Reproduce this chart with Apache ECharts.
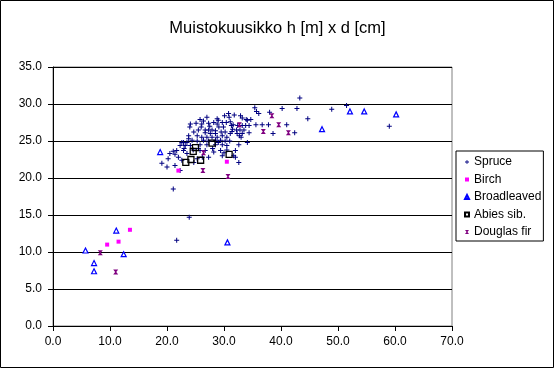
<!DOCTYPE html>
<html>
<head>
<meta charset="utf-8">
<script src="https://cdn.jsdelivr.net/npm/echarts@6/dist/echarts.min.js"></script>
<style>
html,body{margin:0;padding:0;background:#fff;}
#c{width:555px;height:369px;}
</style>
</head>
<body>
<div id="c"></div>
<script>
var titleText = 'Muistokuusikko h [m] x d [cm]';
var seriesNames = ['Spruce', 'Birch', 'Broadleaved', 'Abies sib.', 'Douglas fir'];

var spruce = [
  [43.3,30.8],[35.4,29.5],[35.7,29.0],[36.1,28.7],[38.0,28.9],[40.2,29.4],[42.8,29.4],[44.7,28.0],[48.9,29.3],[51.5,29.8],[59.0,27.0],
  [42.4,26.1],[38.6,26.0],[41.0,27.2],[37.8,27.2],[36.7,27.2],[35.6,27.2],[34.4,27.1],[33.8,27.1],[33.2,27.1],[32.4,27.1],[31.6,27.2],
  [31.1,27.6],[30.4,27.5],[29.7,27.5],[28.8,28.0],[30.8,28.7],[30.1,28.4],[30.9,28.2],[32.9,28.4],[33.2,28.1],[33.9,27.9],[34.1,27.8],[34.7,27.9],
  [25.8,27.9],[26.4,27.7],[25.1,27.4],[26.1,27.3],[24.1,27.3],[24.0,26.9],[27.3,27.4],[28.2,27.5],[28.8,27.3],[29.1,26.9],[29.9,26.9],
  [31.3,27.1],[31.5,26.6],[32.2,26.5],[32.8,26.5],[33.5,26.5],[34.4,26.1],[33.2,26.0],[32.3,26.0],[31.1,26.0],[30.2,26.2],[29.5,26.2],
  [28.5,26.4],[27.9,26.5],[27.3,26.5],[26.7,26.5],[25.5,26.5],[24.7,26.2],[26.7,26.1],[27.6,26.0],[28.5,26.0],[25.3,25.7],[26.1,25.5],
  [27.0,25.5],[27.9,25.5],[28.8,25.5],[29.7,25.7],[30.5,25.5],[23.8,25.7],[23.8,25.3],[22.9,24.8],[22.6,24.8],[23.5,24.8],[24.4,25.1],
  [25.3,25.0],[26.4,25.1],[27.3,25.0],[28.5,25.1],[29.4,25.1],[30.2,25.0],[22.3,24.4],[23.2,24.4],[24.1,24.4],[25.8,24.5],[27.0,24.5],
  [28.5,24.5],[29.7,24.5],[30.5,24.4],[32.6,24.5],[34.1,24.8],
  [21.7,23.7],[21.1,23.6],[20.5,23.3],[21.4,23.2],[22.9,23.7],[23.5,23.3],[25.8,23.7],[26.7,23.7],[28.2,23.5],[29.4,23.7],[30.5,23.8],
  [31.7,23.0],[22.0,22.8],[22.6,22.4],[20.2,22.6],[19.1,22.0],[20.0,21.5],[21.4,21.7],[24.7,22.1],[25.3,22.6],[27.3,22.8],[29.7,23.0],
  [32.6,22.1],[32.0,22.8],[22.3,21.0],[21.1,18.5],[23.9,14.7],[21.7,11.6],
  [31.4,26.3],[32.7,25.7],[32.0,23.7],[26.0,26.9],[27.5,27.0],[29.0,27.8],[27.0,28.2],[31.8,28.5],[25.5,24.0],[24.6,23.8],[28.0,24.0],
  [29.0,24.8],[30.0,23.4],[26.2,22.8],[23.0,24.0],[31.0,25.0],[33.0,25.5]
];
var birch = [[9.5,11.0],[11.5,11.4],[13.5,13.0],[22.0,21.0],[30.5,22.2]];
var broadleaved = [[5.7,10.2],[7.2,8.5],[7.2,7.4],[11.1,12.9],[12.4,9.7],[18.8,23.5],[30.6,11.3],[47.2,26.6],[52.1,29.0],[54.6,29.0],[60.2,28.6]];
var abies = [[23.3,22.1],[24.2,22.5],[25.9,22.4],[30.9,23.2],[27.9,24.7],[24.6,23.6],[25.0,24.1]];
var douglas = [[8.3,9.9],[11.0,7.3],[38.4,28.4],[39.6,27.2],[36.9,26.3],[41.3,26.1],[26.4,23.4],[26.3,21.0],[30.7,20.2],[32.7,27.2]];

var xTicks = {min: 0, max: 70, step: 10};
var yTicks = {min: 0, max: 35, step: 5};

var FONT = 'Liberation Sans, Arial, sans-serif';
var chart = echarts.init(document.getElementById('c'), null, {renderer: 'canvas'});

var plusPath = 'path://M2,0H3V5H2Z M0,2H5V3H0Z';
var hourglass = 'path://M0,0H6L3.7,3L6,6H0L2.3,3Z';

chart.setOption({
  animation: false,
  backgroundColor: '#ffffff',
  title: {
    text: titleText,
    left: 'center',
    top: 15,
    textStyle: {fontFamily: FONT, fontSize: 16.5, fontWeight: 'normal', color: '#000'}
  },
  graphic: [{
    type: 'rect',
    shape: {x: 0.5, y: 0.5, width: 553, height: 367},
    style: {fill: 'none', stroke: '#000', lineWidth: 1},
    silent: true, z: 100
  }],
  grid: {
    left: 53, top: 67, width: 399, height: 259,
    show: true, borderColor: '#808080', borderWidth: 1, backgroundColor: 'transparent'
  },
  legend: {
    orient: 'vertical',
    left: 456, top: 151,
    borderColor: '#000', borderWidth: 1,
    padding: [4, 2, 2, 8],
    itemWidth: 4, itemHeight: 4, itemGap: 3.5,
    textStyle: {fontFamily: FONT, fontSize: 12, color: '#000', lineHeight: 14},
    data: seriesNames
  },
  xAxis: {
    type: 'value',
    min: xTicks.min, max: xTicks.max, interval: xTicks.step,
    axisLine: {lineStyle: {color: '#000', width: 1}},
    axisTick: {show: true, length: 5, lineStyle: {color: '#000'}},
    axisLabel: {fontFamily: FONT, fontSize: 12, color: '#000', margin: 10, formatter: function (v) { return v.toFixed(1); }},
    splitLine: {show: false}
  },
  yAxis: {
    type: 'value',
    min: yTicks.min, max: yTicks.max, interval: yTicks.step,
    axisLine: {show: true, lineStyle: {color: '#000', width: 1}},
    axisTick: {show: true, length: 5, lineStyle: {color: '#000'}},
    axisLabel: {fontFamily: FONT, fontSize: 12, color: '#000', margin: 11, formatter: function (v) { return v.toFixed(1); }},
    splitLine: {show: true, lineStyle: {color: '#000', width: 1}}
  },
  series: [
    {name: seriesNames[0], type: 'scatter', data: spruce, symbol: plusPath, symbolSize: 5,
     itemStyle: {color: '#000080', opacity: 1}},
    {name: seriesNames[1], type: 'scatter', data: birch, symbol: 'rect', symbolSize: 4,
     itemStyle: {color: '#ff00ff', opacity: 1}},
    {name: seriesNames[2], type: 'scatter', data: broadleaved, symbol: 'triangle', symbolSize: 5,
     itemStyle: {color: '#ffffff', borderColor: '#0000ff', borderWidth: 1.2, opacity: 1}},
    {name: seriesNames[3], type: 'scatter', data: abies, symbol: 'rect', symbolSize: 6,
     itemStyle: {color: 'rgba(255,255,255,0)', borderColor: '#000', borderWidth: 1.3, opacity: 1}},
    {name: seriesNames[4], type: 'scatter', data: douglas, symbol: hourglass, symbolSize: 5,
     itemStyle: {color: '#800080', opacity: 1}}
  ]
});
</script>
</body>
</html>
